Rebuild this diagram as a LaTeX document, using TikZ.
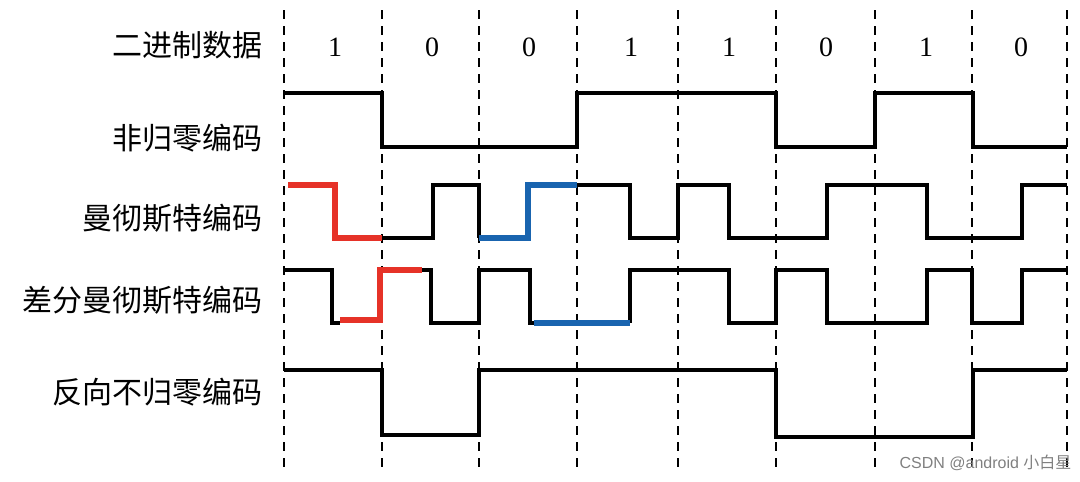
\documentclass[tikz,border=0pt]{standalone}
\usepackage{fontspec}
\setmainfont{Liberation Serif}
\setsansfont{Liberation Sans}
\newfontfamily\cjk{Noto Sans CJK SC}
\begin{document}
\begin{tikzpicture}[x=1pt,y=-1pt,
  wave/.style={line width=3.5pt,line join=miter},
  redw/.style={line width=6pt,draw={rgb,255:red,230;green,50;blue,40}},
  bluew/.style={line width=6pt,draw={rgb,255:red,25;green,100;blue,175}},
  grid/.style={line width=1.5pt,dash pattern=on 9pt off 7pt},
  lab/.style={anchor=east,font=\cjk\fontsize{30}{34}\selectfont},
  bit/.style={font=\fontsize{28}{32}\selectfont}]
\useasboundingbox (0,0) rectangle (1080,482);
\foreach \x in {284,382,479,577,678,776,875,972,1067}
  \draw[grid] (\x,10) -- (\x,468);
\node[lab] (l0) at (266,45) {二进制数据};
\node[lab] (l1) at (266,138) {非归零编码};
\node[lab] (l2) at (266,218) {曼彻斯特编码};
\node[lab] (l3) at (266,300) {差分曼彻斯特编码};
\node[lab] (l4) at (266,392) {反向不归零编码};
\foreach \x/\b [count=\i] in {335/1,432/0,529/0,631/1,729/1,826/0,926/1,1021/0}
  \node[bit] (b\i) at (\x,47) {\b};
% NRZ
\draw[wave] (284,93) -- (382,93) -- (382,147) -- (577,147) -- (577,93) -- (776,93) -- (776,147) -- (875,147) -- (875,93) -- (973,93) -- (973,147) -- (1067,147);
% Manchester
\draw[wave] (382,238) -- (433,238) -- (433,185) -- (479,185) -- (479,238);
\draw[wave] (577,185) -- (630,185) -- (630,238) -- (678,238) -- (678,185) -- (729,185) -- (729,238) -- (827,238) -- (827,185) -- (927,185) -- (927,238) -- (1022,238) -- (1022,185) -- (1067,185);
\draw[redw] (288,185) -- (335,185) -- (335,238) -- (382,238);
\draw[bluew] (479,238) -- (528,238) -- (528,185) -- (577,185);
% Differential Manchester
\draw[wave] (284,270) -- (332,270) -- (332,323) -- (340,323);
\draw[wave] (420,270) -- (431,270) -- (431,323) -- (479,323) -- (479,270) -- (530,270) -- (530,323) -- (534,323);
\draw[wave] (630,323) -- (630,270) -- (729,270) -- (729,323) -- (776,323) -- (776,270) -- (827,270) -- (827,323) -- (927,323) -- (927,270) -- (972,270) -- (972,323) -- (1022,323) -- (1022,270) -- (1067,270);
\draw[redw] (340,320) -- (380,320) -- (380,270) -- (422,270);
\draw[bluew] (534,323) -- (630,323);
% Inverse NRZ
\draw[wave] (284,370) -- (382,370) -- (382,435) -- (479,435) -- (479,370) -- (776,370) -- (776,437) -- (973,437) -- (973,370) -- (1067,370);
\node[font=\sffamily\fontsize{16}{18}\selectfont,text=gray,anchor=east] (wm) at (1075,463) {CSDN @android {\cjk 小白星}};
\end{tikzpicture}
\end{document}
